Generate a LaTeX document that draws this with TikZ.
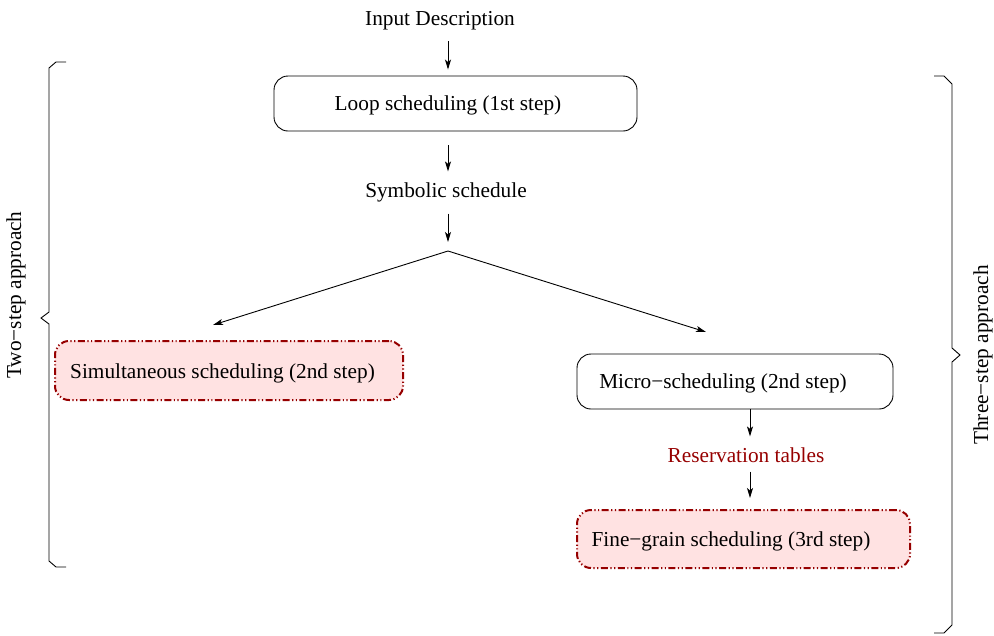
\documentclass[tikz,border=0pt]{standalone}
\usepackage{fontspec}
\setmainfont{Liberation Serif}
\usetikzlibrary{arrows.meta}
\definecolor{darkred}{RGB}{150,0,0}
\definecolor{palepink}{RGB}{255,226,226}
\tikzset{
  every node/.style={font=\fontsize{21.3}{25}\selectfont, inner sep=0pt, text depth=0pt},
  sidelabel/.style={rotate=90, text depth=, inner sep=0pt},
  box/.style={draw=black, line width=0.9pt, rounded corners=14pt},
  hotbox/.style={draw=darkred, fill=palepink, line width=2pt, rounded corners=14pt,
    dash pattern=on 7pt off 2.5pt on 1.2pt off 2.5pt on 1.2pt off 2.5pt},
  tip/.style={-{Stealth[length=10pt,width=6pt,inset=2.5pt]}},
  arr/.style={line width=0.9pt, tip},
  brace/.style={line width=0.9pt},
}
\begin{document}
\begin{tikzpicture}[x=1pt,y=-1pt]
\useasboundingbox (0,0) rectangle (994,635);

% vertical axes of the two flows
\coordinate (axis) at (448,0);
\coordinate (axisr) at (750,0);

\node (in) at (440,18) {Input Description};
\node[box, minimum width=363pt, minimum height=55pt] (loop) at (455.5,103.5)
  {Loop scheduling (1st step)\hspace*{15pt}};
\node (sym) at (446,190) {Symbolic schedule};
\coordinate (fork) at (448,251);
\coordinate (lend) at (213,325);
\coordinate (rend) at (706,332);

\node[hotbox, minimum width=348pt, minimum height=59pt] (simul) at (229,370.5)
  {\raisebox{-1.5pt}{Simultaneous scheduling (2nd step)}\hspace*{13pt}};
\node[box, minimum width=316pt, minimum height=55pt] (micro) at (735,381.5)
  {Micro−scheduling (2nd step)\hspace*{24pt}};
\node[text=darkred] (res) at (746,455) {Reservation tables};
\node[hotbox, minimum width=333pt, minimum height=58pt] (fine) at (743.5,539)
  {Fine−grain scheduling (3rd step)\hspace*{25pt}};

% connectors
\draw[arr] ([yshift=-16pt]in.south -| axis) -- ([yshift=6pt]loop.north -| axis);
\draw[arr] ([yshift=-14pt]loop.south -| axis) -- ([yshift=11pt]sym.north -| axis);
\draw[arr] ([yshift=-16pt]sym.south -| axis) -- ([yshift=9pt]fork);
\draw[arr] (fork) -- (lend);
\draw[arr] (fork) -- (rend);
\draw[arr] (micro.south -| axisr) -- ([yshift=11pt]res.north -| axisr);
\draw[arr] ([yshift=-9pt]res.south -| axisr) -- ([yshift=11pt]fine.north -| axisr);

% left brace: two-step approach
\draw[brace] (66,62) -- (56,62) -- (49,68) -- (49,312) -- (41,318)
  -- (49,324) -- (49,561) -- (56,567) -- (66,567);
\node[sidelabel] (two) at (16,295) {Two−step approach};

% right brace: three-step approach
\draw[brace] (934,76) -- (944,76) -- (952,84) -- (952,348) -- (960,355)
  -- (952,362) -- (952,625) -- (944,633) -- (934,633);
\node[sidelabel] (three) at (983,355) {Three−step approach};
\end{tikzpicture}
\end{document}
